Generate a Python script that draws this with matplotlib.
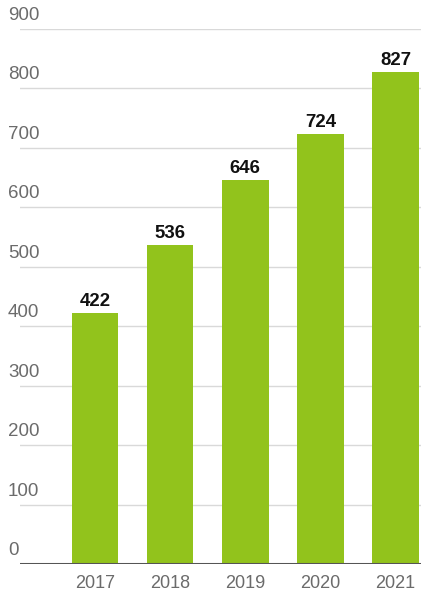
import matplotlib
matplotlib.use("Agg")
import matplotlib.pyplot as plt

years = ["2017", "2018", "2019", "2020", "2021"]
values = [422, 536, 646, 724, 827]
y_ticks = [0, 100, 200, 300, 400, 500, 600, 700, 800, 900]

BAR_COLOR = "#92c31c"
GRID_COLOR = "#d9d9d9"
LABEL_COLOR = "#6b6b6b"

plt.rcParams["font.family"] = ["Liberation Sans", "DejaVu Sans"]

fig = plt.figure(figsize=(4.21, 5.92), dpi=100)
ax = fig.add_axes([20 / 421, 1 - 564 / 592, 1 - 20 / 421, (564 - 29) / 592])

x = list(range(len(years)))
ax.bar(x, values, width=0.62, color=BAR_COLOR, zorder=2)

ax.set_xlim(-1.0, 4.34)
ax.set_ylim(0, 900)

# gridlines with labels sitting above them on the left
for t in y_ticks[1:]:
    ax.axhline(t, color=GRID_COLOR, lw=1, zorder=1)
for t in y_ticks:
    ax.annotate(str(t), xy=(0, t), xycoords=("axes fraction", "data"),
                xytext=(-12, 5), textcoords="offset pixels",
                ha="left", va="bottom", fontsize=13.5, color=LABEL_COLOR,
                annotation_clip=False)
ax.axhline(0, color="#555555", lw=2.2, zorder=3)

for xi, v in zip(x, values):
    ax.annotate(str(v), xy=(xi, v), xytext=(0, 3), textcoords="offset pixels",
                ha="center", va="bottom", fontsize=13.4, fontweight="bold",
                color="#111111")

ax.set_xticks(x)
ax.set_xticklabels(years, fontsize=13, color=LABEL_COLOR)
ax.tick_params(axis="x", length=0, pad=8)
ax.set_yticks([])
for s in ax.spines.values():
    s.set_visible(False)

fig.savefig("out.png", dpi=100)
